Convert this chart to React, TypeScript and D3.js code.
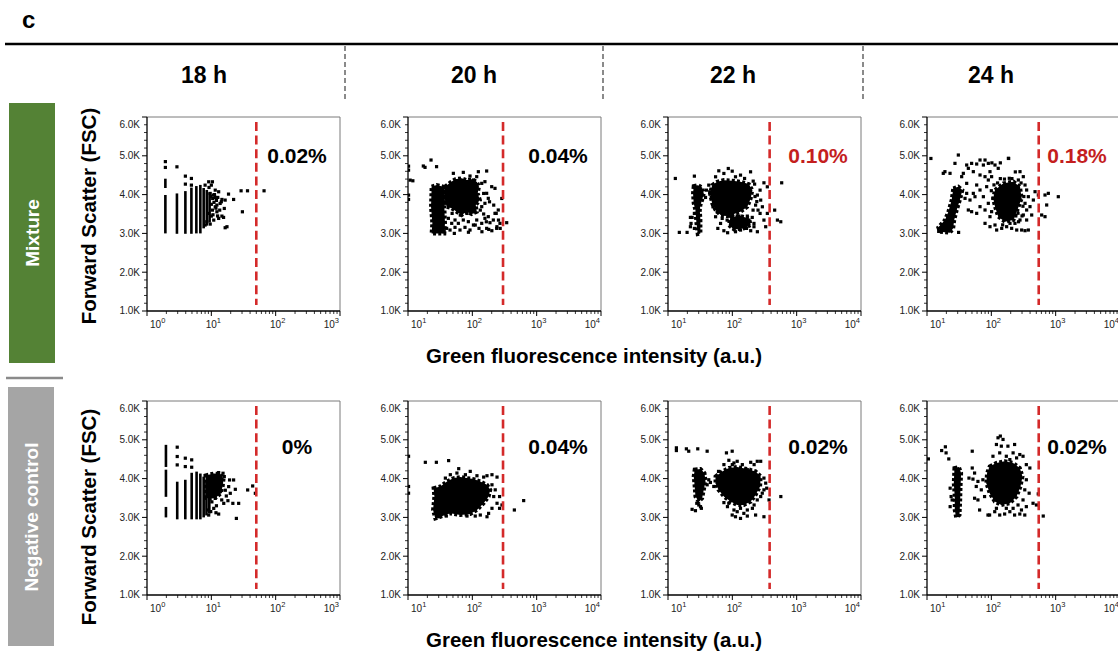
import * as d3 from "d3";

type Pt = [number, number];
type Stripe = [number, number, number];

// labels and axis values
const timeLabels = ["18 h", "20 h", "22 h", "24 h"];
const groupLabels = ["Mixture", "Negative control"];
const groupColors = ["#548235", "#a5a5a5"];
const fscTicks = [1000, 2000, 3000, 4000, 5000, 6000];
const fscTickLabels = ["1.0K", "2.0K", "3.0K", "4.0K", "5.0K", "6.0K"];
const xDomainLow = [1, 10, 10, 10];
const xDomainHigh = [1000, 10000, 10000, 10000];
const gateValues = [50, 300, 380, 545];
const mixturePercents = ["0.02%", "0.04%", "0.10%", "0.18%"];
const negativePercents = ["0%", "0.04%", "0.02%", "0.02%"];
const mixtureHighlighted = [false, false, true, true];

// 18 h: events pile up on integer channels -> stripes [x, fscLow, fscHigh]
const mix18Stripes: Stripe[] = [
  [1.93, 3000, 3990], [1.93, 4170, 4410], [2.92, 2990, 4030], [3.95, 2990, 4090],
  [4.9, 2990, 4180], [5.85, 3000, 4220], [6.75, 3000, 4250], [7.6, 3130, 4170],
  [8.5, 3200, 4120], [9.4, 3280, 4060],
];
const mix18Dots: Pt[] = [
  [1.93, 4850], [1.93, 4700], [2.92, 4716], [3.95, 4476], [3.95, 4270], [4.9, 4416], [4.9, 4244],
  [9.1, 4330], [10, 4244], [10.4, 4330], [9.6, 4030], [10.8, 3987], [11.5, 3927], [12.6, 3927],
  [14.6, 3875], [16.4, 3858], [13.7, 3772], [11.5, 3686], [10.4, 3600], [12.2, 3557], [14.6, 3446],
  [13, 3386], [10.9, 3343], [9.6, 3240], [15.5, 3412], [17.5, 3172], [16.4, 3146], [8, 3215],
  [8.5, 3300], [18.5, 4013], [22.2, 3875], [29, 4098], [36.5, 4098], [30.4, 3557], [66, 4098],
  [8, 4244], [9.2, 4184], [11.5, 4115], [13, 4073], [14.3, 3815], [12.2, 3729], [15.9, 3643],
  [10, 3446], [9, 3515], [10.5, 3900], [11, 3800], [12, 3850], [10, 3750], [11.8, 3650],
  [13.5, 3600], [10.6, 3480], [12.5, 3450], [9.8, 3950], [11.2, 4000],
];
const neg18Stripes: Stripe[] = [
  [1.97, 3000, 3270], [1.97, 3530, 4230], [1.97, 4300, 4870], [2.95, 2950, 3920],
  [3.94, 2950, 3970], [4.95, 2950, 4150], [5.9, 2950, 4180], [6.75, 2950, 4130],
  [7.6, 3000, 4050], [8.4, 3050, 3960], [9.3, 3100, 3900],
];
const neg18Blobs: Pt[][] = [
  [[8.1, 4080], [10.9, 4130], [13.8, 4120], [15.5, 4000], [15, 3800], [14, 3620], [12, 3520], [10, 3480], [8.3, 3500]],
];
const neg18Dots: Pt[] = [
  [2.95, 4810], [2.95, 4569], [2.95, 4353], [3.94, 4526], [3.94, 4310], [4.95, 4483], [4.95, 4293],
  [13, 4155], [15.2, 4138], [12.2, 3983], [15.9, 4052], [19.2, 3965], [22.2, 3965], [23.6, 3724],
  [19.7, 3621], [17.1, 3552], [18.1, 3431], [15.6, 3362], [21.6, 3362], [26.6, 3362], [24.5, 2974],
  [13, 3086], [10.9, 3233], [8.8, 3190], [9.1, 3060], [18.6, 3793], [13.8, 3664], [11.5, 3491],
  [36.7, 3707], [43.9, 3810], [48.3, 3621], [12, 3300], [14.5, 3450], [16.5, 3700], [10.2, 3400],
  [9.8, 3150], [11.8, 3120],
];

// 20 h
const mix20Blobs: Pt[][] = [
  [[23.3, 4204], [27.9, 4247], [35.4, 4204], [37.6, 4119], [36.7, 3688], [37.6, 3260], [36.7, 3000],
   [23.3, 3000], [23.9, 3260], [22.8, 3688]],
  [[37.6, 4204], [45, 4307], [53.8, 4394], [68.3, 4420], [81.6, 4376], [97.7, 4394], [117, 4333],
   [127, 4204], [121, 4033], [131, 3861], [113, 3732], [117, 3559], [97.7, 3500], [81.6, 3559],
   [68.3, 3474], [57.1, 3559], [47.8, 3647], [39.9, 3688], [37.6, 3861]],
];
const mix20Dots: Pt[] = [
  [10.2, 4733], [10.2, 4630], [10.8, 4373], [11.9, 4356], [10.2, 3987], [10.2, 3875],
  [17.3, 4737], [18.4, 4702], [22.8, 4891], [27.8, 4720],
  [50.7, 4548], [72.4, 4573], [124, 4590], [167, 4608], [92, 4479], [104, 4376], [117, 4462],
  [140, 4290], [157, 4333], [200, 4204], [225, 4161], [167, 4033], [177, 3904], [157, 3775],
  [140, 3689], [185, 3815], [215, 3729], [287, 3900], [150, 4030],
  [42.4, 3388], [47.8, 3259], [53.8, 3345], [39.9, 3130], [45, 3087], [53.8, 3156], [60.6, 3259],
  [64.3, 3087], [72.4, 3345], [76.9, 3156], [86.7, 3302], [92, 3087], [104, 3216], [117, 3345],
  [127, 3130], [140, 3259], [157, 3388], [177, 3431], [188, 3276], [167, 3130], [212, 3345],
  [225, 3517], [253, 3603], [269, 3259], [239, 3130], [342, 3276],
  [235, 3515], [255, 3343], [241, 3172], [271, 3129], [165, 3300], [180, 3103], [201, 3069],
  [104, 3557], [82.6, 3515], [65, 3472], [48.5, 3515], [141, 3043], [52.5, 3000], [36.5, 3069],
  [133, 3600], [150, 3500], [111, 3215], [87, 3030],
];
const neg20Blobs: Pt[][] = [
  [[25, 3753], [31.8, 3797], [40.4, 3927], [51.2, 4013], [65.1, 4039], [82.6, 4013], [105, 3987],
   [133, 3927], [169, 3840], [190, 3710], [179, 3537], [150, 3364], [118, 3191], [92.8, 3087],
   [65.1, 3061], [45.5, 3104], [31.8, 3017], [26.6, 2974], [24.5, 3191], [25.7, 3537]],
];
const neg20Dots: Pt[] = [
  [10.2, 4576], [10.2, 3797], [10.2, 3624], [18.6, 4420], [27.6, 4420], [42.8, 4464],
  [61.4, 4256], [57.6, 4143], [78, 4100], [92.8, 4186], [118, 4074], [169, 4074], [202, 4100],
  [242, 4039], [150, 4039], [45.5, 4100], [38.1, 4013], [202, 3840], [227, 3710], [265, 3537],
  [289, 3320], [202, 3234], [179, 3104], [169, 3017], [242, 3364], [265, 3234], [215, 3537],
  [133, 3061], [111, 3035], [82.6, 3035], [30, 3017], [39.4, 3035], [450, 3191], [628, 3433],
];

// 22 h
const mix22Blobs: Pt[][] = [
  [[25.1, 4218], [29, 4244], [33.9, 4184], [36, 4030], [33.9, 3858], [31.9, 3729], [31.2, 3600],
   [31.9, 3343], [31.9, 3000], [29, 2983], [27.7, 3257], [26.7, 3600], [25.1, 3772], [24.5, 4030]],
  [[48.6, 4244], [58, 4330], [73.9, 4373], [99.6, 4356], [134, 4330], [181, 4270], [204, 4115],
   [193, 3900], [171, 3686], [134, 3557], [106, 3498], [83, 3446], [65.6, 3472], [54.9, 3600],
   [48.6, 3772], [45, 4030]],
  [[93.6, 3429], [134, 3446], [181, 3386], [193, 3215], [152, 3129], [106, 3103], [88, 3215]],
];
const mix22Dots: Pt[] = [
  [22.3, 3412], [22.8, 3257], [23.7, 3412], [25.7, 3515], [22.3, 3172], [25.7, 3129], [13, 4416],
  [25.7, 4476], [15, 3026], [19.8, 3026], [39.6, 4115], [44.5, 4073], [38.3, 3927],
  [61.6, 4613], [86.5, 4673], [99.6, 4604], [73.9, 4545], [134, 4502], [192, 4587], [211, 4347],
  [54.9, 4459], [112, 4459], [155, 4416], [222, 4270], [270, 4115], [310, 4304], [350, 4201],
  [245, 3987], [276, 3858], [230, 3729], [251, 3600], [310, 3343], [330, 3172], [270, 3515],
  [217, 3257], [293, 3686], [350, 3515], [455, 3600], [502, 3343], [566, 3300], [585, 4304],
  [54.9, 3429], [59.5, 3129], [65.6, 3257], [73.9, 3069], [84.5, 3017], [83, 3343], [96, 3215],
  [106, 3129], [119, 3343], [121, 3189], [134, 3086], [151, 3257], [166, 3129], [181, 3343],
  [193, 3069], [217, 3172], [245, 3043], [112, 3043], [142, 3386], [100, 3412], [127, 3446],
  [171, 3446], [204, 3412], [69.6, 3386], [43, 4244], [47, 3927], [50, 3686], [58, 3557],
  [75.5, 3498], [225, 3950], [240, 3820], [210, 3600],
];
const neg22Blobs: Pt[][] = [
  [[26, 4230], [32, 4247], [36.9, 4143], [38.3, 3927], [36, 3710], [33.9, 3494], [30.1, 3407],
   [26.7, 3537], [26, 3797], [25.1, 4057]],
  [[54.8, 4057], [69.6, 4186], [88.3, 4273], [119, 4299], [171, 4247], [230, 4186], [276, 4057],
   [270, 3797], [230, 3580], [193, 3407], [151, 3320], [119, 3320], [94, 3407], [74, 3537],
   [61, 3710], [54.8, 3883]],
];
const neg22Dots: Pt[] = [
  [13.5, 4793], [13.5, 4723], [19.3, 4767], [21, 4706], [29, 4767], [40.6, 4706], [81, 4663],
  [99.5, 4706], [28, 3364], [32, 3277], [33, 3234], [23.7, 3208], [26.7, 3173], [30.1, 3320],
  [40.6, 3840], [45.6, 3901], [51.5, 3797], [43, 3970], [88.3, 4472], [106, 4403], [119, 4446],
  [143, 4360], [193, 4420], [244, 4446], [276, 4446], [171, 4230], [218, 4360], [74, 4360],
  [61, 4186], [100, 4360], [310, 4013], [342, 3753], [372, 3450], [310, 3017], [567, 3537],
  [292, 3624], [310, 3710], [244, 3450], [276, 3537], [330, 3883], [99.5, 3061], [112, 3017],
  [134, 2974], [171, 3035], [230, 3061], [106, 3191], [134, 3234], [171, 3191], [205, 3234],
  [218, 3320], [84, 3277], [88, 3364], [151, 3104], [119, 3147], [74, 3381],
];

// 24 h
const mix24Blobs: Pt[][] = [
  [[25.6, 4161], [30.7, 4204], [35.4, 4118], [33, 3903], [29, 3603], [26.5, 3345], [25.5, 3130],
   [22.8, 3019], [15.9, 3044], [15, 3156], [19, 3345], [21.5, 3560], [24.2, 3860]],
  [[114, 4118], [154, 4290], [220, 4333], [279, 4204], [296, 3903], [254, 3603], [220, 3345],
   [163, 3302], [128, 3431], [114, 3689], [107, 3903]],
];
const mix24Dots: Pt[] = [
  [11.5, 4931], [17.9, 4548], [19, 4591], [27.2, 4805], [30.7, 5020], [41.4, 4762], [43.9, 4677],
  [49.4, 4805], [52.5, 4591], [59.2, 4788], [66.7, 4891], [75.2, 4762], [79.8, 4891], [89.8, 4805],
  [95.3, 4591], [101, 4462], [114, 4762], [128, 4677], [184, 4934], [79.8, 4462], [89.8, 4376],
  [66.7, 4505], [36.7, 4548], [34.6, 4462], [22.8, 4548], [41.4, 4290], [59.2, 4247], [52.5, 4032],
  [46.6, 3860], [55.7, 3946], [66.7, 4118], [75.2, 3946], [84.6, 4204], [89.8, 3775], [79.8, 3603],
  [95.3, 3431], [66.7, 3689], [59.2, 3517], [49.4, 3560], [43.9, 3603], [39, 3903], [41.4, 4032],
  [79.8, 3259], [95.3, 3173], [114, 3216], [121, 3087], [145, 3130], [173, 3173], [207, 3130],
  [248, 3087], [296, 3087], [334, 3070], [376, 3087], [195, 3259], [233, 3259],
  [314, 4462], [279, 4591], [263, 4376], [334, 4247], [354, 4118], [376, 3946], [334, 3775],
  [354, 3603], [314, 3474], [354, 3345], [279, 3345], [399, 3689], [424, 3474], [450, 3860],
  [478, 4075], [538, 3989], [683, 3989], [769, 4032], [725, 3732], [606, 3474], [683, 3431],
  [1099, 3946], [15.2, 3052], [17.1, 3113], [31, 3026], [102, 4818], [138, 4818], [186, 4931],
  [138, 4412], [209, 4412], [236, 4585], [106, 3900], [100, 4100], [101, 3560], [240, 3450],
  [260, 3520], [150, 3220], [180, 3380], [320, 3950], [310, 3700], [290, 4300], [190, 4420],
  [160, 4400], [125, 4300], [110, 4250], [300, 3450], [265, 3300],
];
const neg24Blobs: Pt[][] = [
  [[26.7, 4273], [31.3, 4299], [33.9, 4143], [33.2, 3797], [32.8, 3450], [32, 3061], [28.4, 3000],
   [27, 3191], [27, 3537], [26.1, 3883]],
  [[94.4, 4316], [120, 4403], [161, 4446], [218, 4403], [277, 4273], [305, 4057], [284, 3797],
   [247, 3537], [194, 3364], [143, 3320], [113, 3407], [94.4, 3624], [83.6, 3883], [85.8, 4143]],
];
const neg24Dots: Pt[] = [
  [10.5, 4507], [16.9, 4723], [19.3, 4819], [19.8, 4663], [21.8, 4507], [22.9, 3753], [23.7, 3537],
  [22.9, 3277], [24.6, 3450], [50.5, 4706], [50.5, 4273], [44.9, 4013], [51.8, 3987], [54.9, 4143],
  [61.9, 3927], [58.3, 3797], [54.9, 3494], [61.9, 3450], [65.7, 3191], [88.7, 3061], [69.8, 3710],
  [73.9, 3970], [78.5, 3537], [127, 5052], [138, 5096], [152, 5009], [120, 4879], [143, 4836],
  [181, 4836], [230, 4879], [218, 4663], [277, 4620], [311, 4576], [397, 4273], [106, 4576],
  [135, 4663], [171, 4576], [247, 4533], [194, 4490], [350, 4360], [350, 3970], [387, 3624],
  [445, 3364], [502, 3320], [536, 3606], [641, 3035], [331, 3710], [311, 3450], [350, 3277],
  [294, 3191], [94, 3061], [113, 3147], [135, 3061], [161, 3087], [194, 3147], [230, 3061],
  [277, 3087], [331, 3061], [218, 3234], [171, 3234], [120, 3234], [260, 3320],
];

const mixtureStripes = [mix18Stripes, [], [], []];
const negativeStripes = [neg18Stripes, [], [], []];
const mixtureBlobs = [[], mix20Blobs, mix22Blobs, mix24Blobs];
const negativeBlobs = [neg18Blobs, neg20Blobs, neg22Blobs, neg24Blobs];
const mixtureDots = [mix18Dots, mix20Dots, mix22Dots, mix24Dots];
const negativeDots = [neg18Dots, neg20Dots, neg22Dots, neg24Dots];

// layout
const W = 1118;
const H = 657;
const PANEL_LEFT = [147, 408, 668, 927];
const PANEL_W = 193;
const PANEL_H = 194;
const ROW_TOP = [117, 401];
const PCT_BASELINE = [163, 454];
const HEADER_X = [204, 474, 733, 991];
const SEPARATOR_X = [345, 603, 863];
const FONT = "'Liberation Sans', Arial, Helvetica, sans-serif";
const DOT = 3.2;

function Panel(props: {
  col: number; row: number; stripes: Stripe[]; blobs: Pt[][]; dots: Pt[];
  pct: string; red: boolean;
}) {
  const { col, row, stripes, blobs, dots, pct, red } = props;
  const x0 = PANEL_LEFT[col];
  const y0 = ROW_TOP[row];
  const x = d3.scaleLog().domain([xDomainLow[col], xDomainHigh[col]]).range([x0, x0 + PANEL_W]);
  const y = d3.scaleLinear().domain([1000, 6000]).range([y0 + PANEL_H, y0]);
  const blobPath = d3.line<Pt>().x((d) => x(d[0])).y((d) => y(d[1])).curve(d3.curveLinearClosed);

  const lo = Math.round(Math.log10(xDomainLow[col]));
  const hi = Math.round(Math.log10(xDomainHigh[col]));
  const exps = d3.range(lo, hi + 1);
  const minorX: number[] = [];
  for (let e = lo; e < hi; e++) for (let k = 2; k <= 9; k++) minorX.push(k * Math.pow(10, e));
  const minorY = d3.range(1200, 6000, 200).filter((v) => v % 1000 !== 0);
  const bottom = y0 + PANEL_H;
  const clipId = `clip-${row}-${col}`;
  const g = gateValues[col];

  return (
    <g>
      <clipPath id={clipId}>
        <rect x={x0} y={y0} width={PANEL_W} height={PANEL_H} />
      </clipPath>
      {/* frame */}
      <line x1={x0} x2={x0 + PANEL_W} y1={y0} y2={y0} stroke="#7a7a7a" strokeWidth={1} />
      <line x1={x0 + PANEL_W} x2={x0 + PANEL_W} y1={y0} y2={bottom} stroke="#7a7a7a" strokeWidth={1} />

      <g clipPath={`url(#${clipId})`}>
        {stripes.map((s, i) => (
          <rect key={"s" + i} x={x(s[0]) - 1.3} y={y(s[2])} width={2.6} height={y(s[1]) - y(s[2])} fill="#000" />
        ))}
        {/* dense event cores; the dashed thick outline gives a speckled edge */}
        {blobs.map((b, i) => (
          <path key={"b" + i} d={blobPath(b) || ""} fill="#000" stroke="#000" strokeWidth={4}
            strokeDasharray="3,2.2" strokeLinejoin="miter" />
        ))}
        {dots.map((d, i) => (
          <rect key={"d" + i} x={x(d[0]) - DOT / 2} y={y(d[1]) - DOT / 2} width={DOT} height={DOT} fill="#000" />
        ))}
      </g>

      {/* gate */}
      <line x1={x(g)} x2={x(g)} y1={y0 + 5} y2={bottom - 6} stroke="#d42a2a" strokeWidth={2.6} strokeDasharray="9,4.6" />
      <text x={x0 + 150} y={PCT_BASELINE[row]} textAnchor="middle" fontFamily={FONT} fontWeight="bold"
        fontSize={21} fill={red ? "#c41e1e" : "#000"}>{pct}</text>

      {/* y axis */}
      <line x1={x0} x2={x0} y1={y0} y2={bottom} stroke="#000" strokeWidth={1.3} />
      {fscTicks.map((t, i) => (
        <g key={"yt" + t}>
          <line x1={x0 - 5} x2={x0} y1={y(t)} y2={y(t)} stroke="#000" strokeWidth={1} />
          <text x={x0 - 7} y={y(t) + (i === fscTicks.length - 1 ? 7 : i === 0 ? -1 : 0)} textAnchor="end"
            dominantBaseline="central" fontFamily={FONT} fontSize={10} fill="#222">{fscTickLabels[i]}</text>
        </g>
      ))}
      {minorY.map((t) => (
        <line key={"ym" + t} x1={x0 - 3} x2={x0} y1={y(t)} y2={y(t)} stroke="#000" strokeWidth={0.8} />
      ))}

      {/* x axis */}
      <line x1={x0} x2={x0 + PANEL_W} y1={bottom} y2={bottom} stroke="#000" strokeWidth={1.3} />
      {minorX.map((t) => (
        <line key={"xm" + t} x1={x(t)} x2={x(t)} y1={bottom} y2={bottom + 3} stroke="#000" strokeWidth={0.8} />
      ))}
      {exps.map((e, i) => {
        const v = Math.pow(10, e);
        const first = i === 0;
        const last = i === exps.length - 1;
        return (
          <g key={"xt" + e}>
            <line x1={x(v)} x2={x(v)} y1={bottom} y2={bottom + 5} stroke="#000" strokeWidth={1} />
            <text x={first ? x(v) + 3 : last ? x(v) - 1 : x(v) + 2} y={bottom + 17}
              textAnchor={first ? "start" : last ? "end" : "middle"} fontFamily={FONT} fontSize={10} fill="#222">
              10<tspan dy={-5} fontSize={7.5}>{e}</tspan>
            </text>
          </g>
        );
      })}
    </g>
  );
}

export default function App() {
  return (
    <svg width={W} height={H} style={{ position: "absolute", left: 0, top: 0, background: "#fff" }}>
      <rect x={0} y={0} width={W} height={H} fill="#fff" />
      <text x={22} y={28} fontFamily={FONT} fontWeight="bold" fontSize={24}>c</text>
      <line x1={5} x2={W} y1={44} y2={44} stroke="#000" strokeWidth={2.5} />
      {SEPARATOR_X.map((sx) => (
        <line key={sx} x1={sx} x2={sx} y1={46} y2={100} stroke="#8a8a8a" strokeWidth={2} strokeDasharray="5,3" />
      ))}
      {timeLabels.map((t, i) => (
        <text key={t} x={HEADER_X[i]} y={83} textAnchor="middle" fontFamily={FONT} fontWeight="bold" fontSize={23}>{t}</text>
      ))}

      {/* group side bars */}
      <rect x={9} y={103} width={46} height={260} fill={groupColors[0]} />
      <line x1={6} x2={63} y1={378} y2={378} stroke="#8a8a8a" strokeWidth={2.5} />
      <rect x={8} y={387} width={46} height={259} fill={groupColors[1]} />
      <text transform="translate(32,233) rotate(-90)" textAnchor="middle" dominantBaseline="central"
        fontFamily={FONT} fontWeight="bold" fontSize={19} fill="#fff">{groupLabels[0]}</text>
      <text transform="translate(31,517) rotate(-90)" textAnchor="middle" dominantBaseline="central"
        fontFamily={FONT} fontWeight="bold" fontSize={19} fill="#fff">{groupLabels[1]}</text>

      {/* axis titles */}
      {[216, 517].map((cy) => (
        <text key={"yt" + cy} transform={`translate(88,${cy}) rotate(-90)`} textAnchor="middle" dominantBaseline="central"
          fontFamily={FONT} fontWeight="bold" fontSize={20.5}>Forward Scatter (FSC)</text>
      ))}
      {[363, 647].map((by) => (
        <text key={"xt" + by} x={594} y={by} textAnchor="middle" fontFamily={FONT} fontWeight="bold" fontSize={20.5}>
          Green fluorescence intensity (a.u.)
        </text>
      ))}

      {timeLabels.map((_, c) => (
        <Panel key={"m" + c} col={c} row={0} stripes={mixtureStripes[c]} blobs={mixtureBlobs[c]}
          dots={mixtureDots[c]} pct={mixturePercents[c]} red={mixtureHighlighted[c]} />
      ))}
      {timeLabels.map((_, c) => (
        <Panel key={"n" + c} col={c} row={1} stripes={negativeStripes[c]} blobs={negativeBlobs[c]}
          dots={negativeDots[c]} pct={negativePercents[c]} red={false} />
      ))}
    </svg>
  );
}
